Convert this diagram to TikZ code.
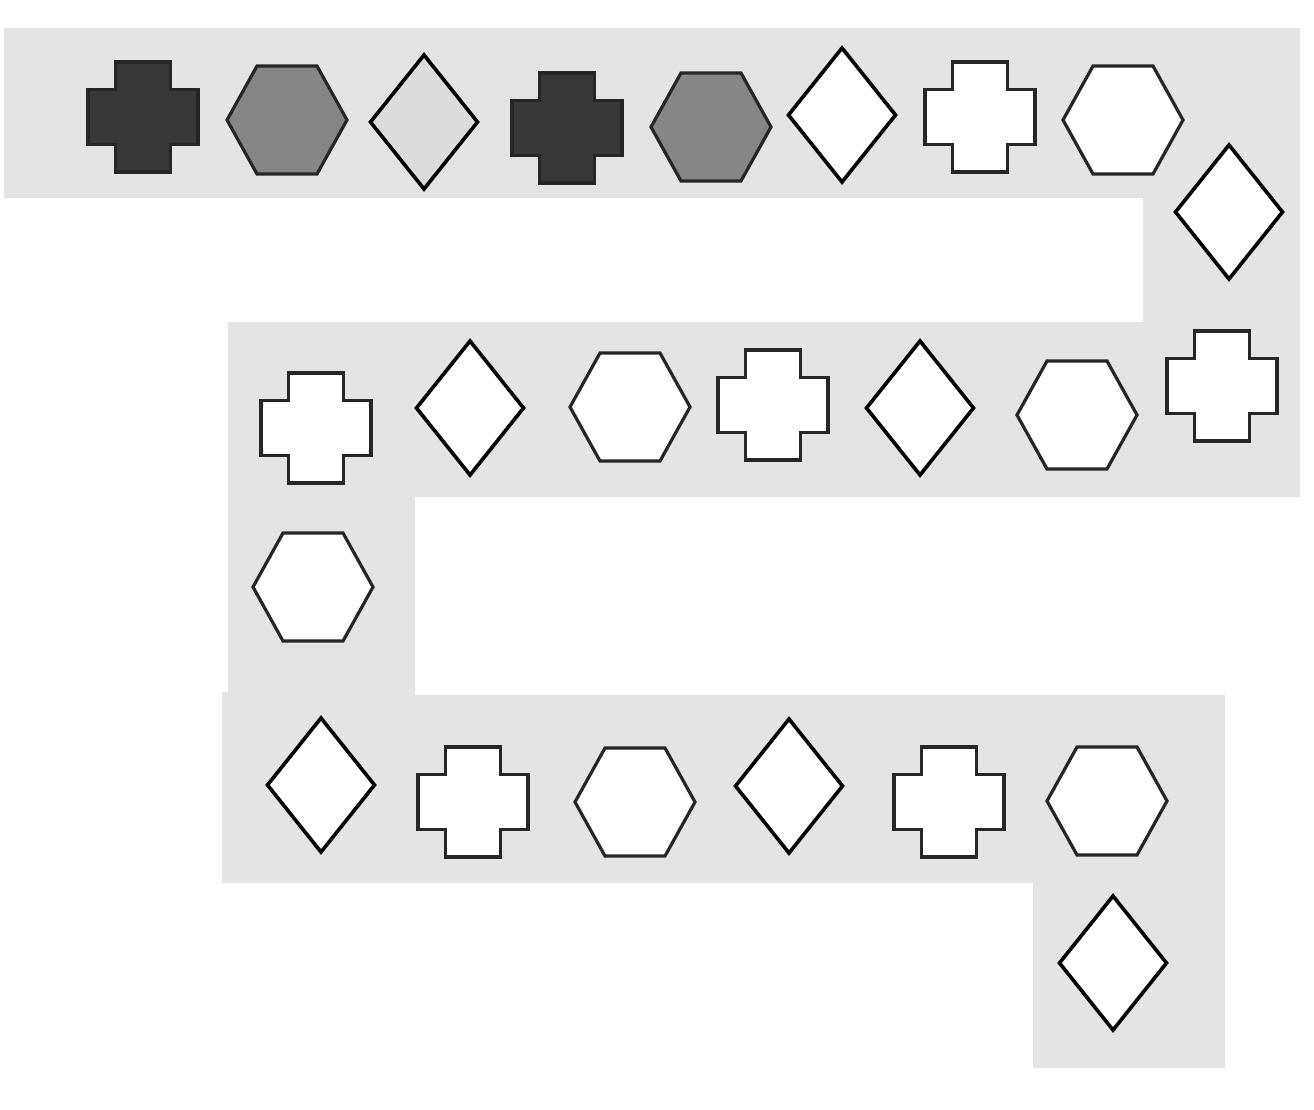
\documentclass[tikz,border=0pt]{standalone}
\definecolor{band}{HTML}{E4E4E4}
\definecolor{darkfill}{HTML}{383838}
\definecolor{midfill}{HTML}{868686}
\definecolor{lightfill}{HTML}{DCDCDC}
\begin{document}
\begin{tikzpicture}[x=1pt,y=-1pt,
  outl/.style={draw=black!85,line width=3.2pt,line join=miter},
  pics/crossp/.style={code={
    \draw[outl,fill=#1] (-27.5,-55) -- (27.5,-55) -- (27.5,-27.5) -- (55,-27.5) -- (55,27.5) -- (27.5,27.5) -- (27.5,55) -- (-27.5,55) -- (-27.5,27.5) -- (-55,27.5) -- (-55,-27.5) -- (-27.5,-27.5) -- cycle;}},
  pics/hexp/.style={code={
    \draw[outl,fill=#1] (-60,0) -- (-30,-54) -- (30,-54) -- (60,0) -- (30,54) -- (-30,54) -- cycle;}},
  pics/diamp/.style={code={
    \draw[outl,draw=black,line width=3.6pt,fill=#1] (0,-67) -- (53.5,0) -- (0,67) -- (-53.5,0) -- cycle;}},
]
\useasboundingbox (0,0) rectangle (1314,1109);
\fill[white] (0,0) rectangle (1314,1109);
% gray band path
\fill[band] (4,28) -- (1300,28) -- (1300,497) -- (415,497) -- (415,695) -- (1225,695) -- (1225,1068) -- (1033,1068) -- (1033,883) -- (222,883) -- (222,692) -- (228,692) -- (228,322) -- (1143,322) -- (1143,198) -- (4,198) -- cycle;
% row 1
\pic (s1) at (143,117) {crossp=darkfill};
\pic (s2) at (287,120) {hexp=midfill};
\pic (s3) at (424,122) {diamp=lightfill};
\pic (s4) at (567,128) {crossp=darkfill};
\pic (s5) at (711,127) {hexp=midfill};
\pic (s6) at (842,115) {diamp=white};
\pic (s7) at (980,117) {crossp=white};
\pic (s8) at (1123,120) {hexp=white};
\pic (s9) at (1229,212) {diamp=white};
% row 2
\pic (s10) at (316,428) {crossp=white};
\pic (s11) at (470,408) {diamp=white};
\pic (s12) at (630,407) {hexp=white};
\pic (s13) at (773,405) {crossp=white};
\pic (s14) at (920,408) {diamp=white};
\pic (s15) at (1077,415) {hexp=white};
\pic (s16) at (1222,386) {crossp=white};
% left column
\pic (s17) at (313,587) {hexp=white};
% row 4
\pic (s18) at (321,785) {diamp=white};
\pic (s19) at (473,802) {crossp=white};
\pic (s20) at (635,802) {hexp=white};
\pic (s21) at (789,786) {diamp=white};
\pic (s22) at (949,802) {crossp=white};
\pic (s23) at (1107,801) {hexp=white};
\pic (s24) at (1113,963) {diamp=white};
\end{tikzpicture}
\end{document}
